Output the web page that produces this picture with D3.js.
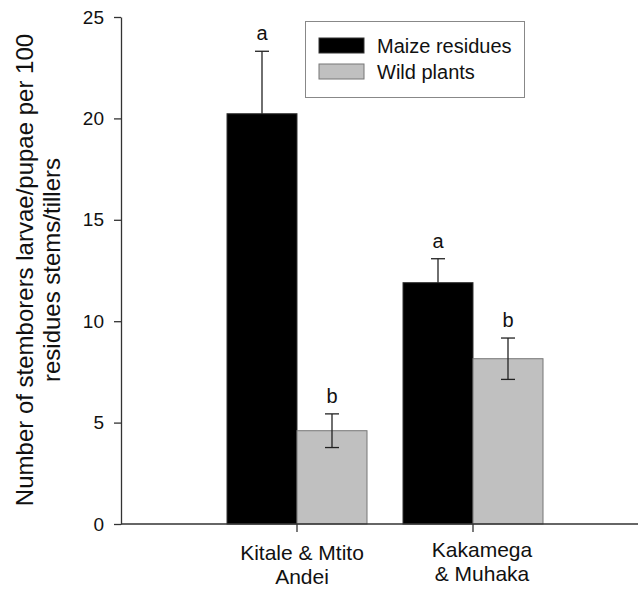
<!DOCTYPE html>
<html><head><meta charset="utf-8">
<script src="https://cdn.jsdelivr.net/npm/d3@7"></script>
<style>body{margin:0;background:#fff}svg{display:block}text{font-family:"Liberation Sans",Arial,sans-serif;fill:#111}</style>
</head><body><div id="c"></div>
<script>
const categories = [["Kitale & Mtito","Andei"],["Kakamega","& Muhaka"]];
const seriesNames = ["Maize residues","Wild plants"];
const maizeValues = [20.23, 11.9];
const maizeErrors = [3.08, 1.18];
const wildValues = [4.6, 8.15];
const wildErrors = [0.83, 1.02];
const maizeLetters = ["a","a"];
const wildLetters = ["b","b"];
const yTicks = [0,5,10,15,20,25];
const yLabel = ["Number of stemborers larvae/pupae per 100","residues stems/tillers"];

const W=638,H=590;
const svg=d3.select("#c").append("svg").attr("width",W).attr("height",H);
const x0=121, x1=638, yTop=17, yBot=524;
const y=d3.scaleLinear().domain([0,25]).range([yBot,yTop]);
const xc=d3.scaleLinear().domain([0,1]).range([297,473]);
const bw=70;
const colors=["#000000","#c0c0c0"];
const strokes=["#333","#777"];
const series=[
 {vals:maizeValues,errs:maizeErrors,letters:maizeLetters,off:-1},
 {vals:wildValues,errs:wildErrors,letters:wildLetters,off:0}
];
series.forEach((s,si)=>{
  const g=svg.append("g");
  g.selectAll("rect").data(s.vals).join("rect")
    .attr("x",(d,i)=>xc(i)+s.off*bw).attr("width",bw)
    .attr("y",d=>y(d)).attr("height",d=>yBot-y(d))
    .attr("fill",colors[si]).attr("stroke",strokes[si]).attr("stroke-width",1);
  s.vals.forEach((v,i)=>{
    const cx=xc(i)+s.off*bw+bw/2;
    const lo=si===0?y(v):y(v-s.errs[i]), hi=y(v+s.errs[i]);
    g.append("line").attr("x1",cx).attr("x2",cx).attr("y1",lo).attr("y2",hi).attr("stroke","#222").attr("stroke-width",1.3);
    g.append("line").attr("x1",cx-7).attr("x2",cx+7).attr("y1",hi).attr("y2",hi).attr("stroke","#222").attr("stroke-width",1.3);
    if(si===1) g.append("line").attr("x1",cx-7).attr("x2",cx+7).attr("y1",lo).attr("y2",lo).attr("stroke","#222").attr("stroke-width",1.3);
    g.append("text").attr("x",cx).attr("y",hi-11).attr("text-anchor","middle").attr("font-size",20).text(s.letters[i]);
  });
});
// y axis
const ya=svg.append("g").attr("transform",`translate(${x0},0)`)
  .call(d3.axisLeft(y).tickValues(yTicks).tickSize(7).tickPadding(10).tickSizeOuter(0));
ya.select(".domain").attr("stroke","#333").attr("stroke-width",1.3);
ya.selectAll(".tick line").attr("stroke","#333").attr("stroke-width",1.3);
ya.selectAll(".tick text").attr("font-size",19).attr("font-family","Liberation Sans, Arial, sans-serif").attr("fill","#222");
// x axis
svg.append("line").attr("x1",x0).attr("x2",x1).attr("y1",yBot).attr("y2",yBot).attr("stroke","#333").attr("stroke-width",1.3);
const labelShift=[5,9], labelBase=[560,557];
categories.forEach((c,i)=>{
  svg.append("line").attr("x1",xc(i)).attr("x2",xc(i)).attr("y1",yBot).attr("y2",yBot+8).attr("stroke","#333").attr("stroke-width",1.3);
  const t=svg.append("text").attr("text-anchor","middle").attr("font-size",21);
  c.forEach((ln,j)=>t.append("tspan").attr("x",xc(i)+labelShift[i]).attr("y",labelBase[i]+j*24).text(ln));
});
// y label
const yl=svg.append("text").attr("transform","translate(33,270) rotate(-90)").attr("text-anchor","middle").attr("font-size",24);
yLabel.forEach((ln,j)=>yl.append("tspan").attr("x",0).attr("y",j*27).text(ln));
// legend
const lg=svg.append("g");
lg.append("rect").attr("x",305.5).attr("y",21.5).attr("width",219).attr("height",76).attr("fill","#fff").attr("stroke","#888").attr("stroke-width",1);
seriesNames.forEach((n,i)=>{
  lg.append("rect").attr("x",319).attr("y",38+i*26).attr("width",45).attr("height",15).attr("fill",colors[i]).attr("stroke",strokes[i]);
  lg.append("text").attr("x",377).attr("y",53+i*26).attr("font-size",20).text(n);
});
</script></body></html>
